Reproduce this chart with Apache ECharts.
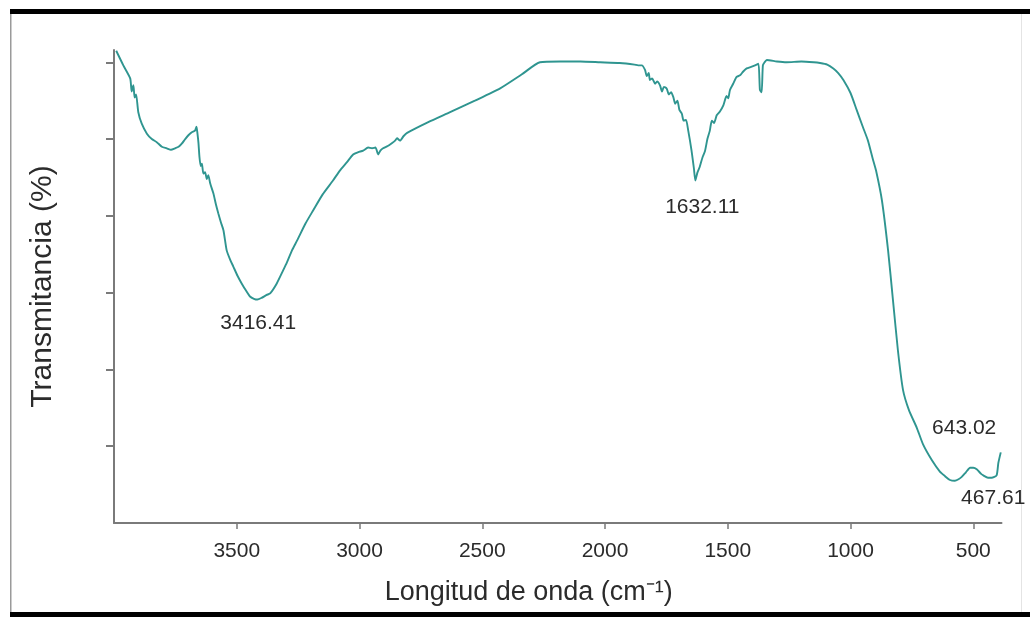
<!DOCTYPE html>
<html>
<head>
<meta charset="utf-8">
<title>Espectro FTIR</title>
<script src="https://cdn.jsdelivr.net/npm/echarts@6/dist/echarts.min.js"></script>
<style>
  html, body { margin: 0; padding: 0; background: #ffffff; }
  #chart { width: 1030px; height: 617px; }
</style>
</head>
<body>
<div id="chart"></div>
<script>
// Wavenumber (cm-1), high to low
const wavenumbers = [
  3991, 3962, 3934, 3928, 3921, 3916, 3910, 3901, 3887, 3866, 3846, 3826, 3805, 3785, 3768, 3751,
  3737, 3724, 3710, 3697, 3683, 3670, 3664, 3660, 3656, 3652, 3647, 3642, 3636, 3629, 3622, 3616,
  3608, 3595, 3585, 3575, 3565, 3554, 3541, 3527, 3514, 3497, 3480, 3463, 3446, 3430, 3416, 3400,
  3378, 3364, 3337, 3311, 3296, 3275, 3254, 3220, 3189, 3150, 3108, 3080, 3051, 3026, 3005, 2985,
  2965, 2949, 2935, 2924, 2915, 2904, 2885, 2867, 2855, 2847, 2835, 2820, 2806, 2720, 2631, 2530,
  2427, 2340, 2265, 2183, 2100, 2020, 1940, 1880, 1865, 1850, 1837, 1830, 1822, 1817, 1808, 1796,
  1788, 1776, 1768, 1760, 1749, 1740, 1731, 1722, 1714, 1705, 1697, 1687, 1680, 1670, 1661, 1648,
  1638, 1632, 1624, 1614, 1603, 1593, 1583, 1573, 1565, 1556, 1545, 1532, 1518, 1505, 1498, 1491,
  1478, 1464, 1450, 1437, 1423, 1405, 1389, 1375, 1369, 1362, 1357, 1350, 1341, 1300, 1260, 1200,
  1150, 1124, 1095, 1070, 1050, 1029, 1000, 975, 950, 929, 910, 896, 872, 847, 827, 807,
  786, 762, 730, 704, 669, 636, 615, 595, 575, 560, 547, 530, 513, 500, 486, 468,
  459, 440, 425, 405, 398, 388
];

// Transmittance (%), one value per wavenumber
const transmittance = [
  61.5, 59.6, 57.9, 56.2, 57.0, 55.4, 55.8, 53.5, 52.0, 50.7, 50.0, 49.6, 49.0, 48.8, 48.6, 48.8,
  49.0, 49.4, 50.0, 50.5, 50.9, 51.1, 51.6, 50.7, 49.5, 47.7, 46.5, 46.8, 45.5, 45.7, 44.8, 45.3,
  44.2, 42.9, 41.5, 40.3, 39.2, 38.1, 35.5, 34.3, 33.4, 32.2, 31.2, 30.3, 29.5, 29.2, 29.1, 29.3,
  29.7, 29.9, 31.2, 32.9, 33.9, 35.5, 36.8, 39.0, 40.7, 42.8, 44.6, 45.9, 47.0, 48.0, 48.3, 48.5,
  48.9, 48.8, 48.9, 48.0, 48.5, 48.8, 49.1, 49.5, 49.8, 50.1, 49.8, 50.4, 50.8, 52.2, 53.5, 55.0,
  56.6, 58.4, 60.0, 60.1, 60.1, 60.0, 59.9, 59.7, 59.6, 59.6, 59.0, 58.2, 58.6, 57.7, 57.9, 57.2,
  57.5, 57.0, 56.2, 56.8, 56.6, 55.8, 56.1, 55.5, 54.6, 55.0, 53.8, 53.3, 52.4, 52.5, 51.1, 48.6,
  46.2, 44.6, 45.6, 46.4, 47.6, 48.4, 50.0, 51.1, 52.4, 52.1, 53.1, 53.6, 54.4, 55.6, 55.3, 56.4,
  57.2, 58.1, 58.3, 58.8, 59.2, 59.4, 59.6, 59.8, 56.4, 56.1, 59.6, 60.0, 60.3, 60.1, 60.0, 60.1,
  60.0, 59.9, 59.7, 59.2, 58.6, 57.7, 56.0, 53.8, 51.6, 49.8, 47.5, 45.9, 42.0, 35.5, 29.0, 22.5,
  17.3, 14.7, 12.4, 10.2, 8.2, 6.7, 6.1, 5.6, 5.5, 5.7, 6.0, 6.6, 7.2, 7.2, 7.0, 6.4,
  6.2, 5.9, 5.9, 6.2, 7.8, 9.2
];

// Annotated band positions (cm-1)
const peakWavenumbers = [3416.41, 1632.11, 643.02, 467.61];

// Axis ticks
const xTickValues = [3500, 3000, 2500, 2000, 1500, 1000, 500];
const yTickValues = [10, 20, 30, 40, 50, 60];

// Label placement relative to each band point (px)
const peakLabelOffsets = [[1, 24], [7, 27], [26, -41], [12, 24]];

// Transmittance on the curve at a given wavenumber
function curveAt(wn) {
  for (let i = 0; i < wavenumbers.length - 1; i++) {
    const a = wavenumbers[i], b = wavenumbers[i + 1];
    if (wn <= a && wn >= b) {
      const t = (a - wn) / (a - b);
      return transmittance[i] + t * (transmittance[i + 1] - transmittance[i]);
    }
  }
  return transmittance[transmittance.length - 1];
}

const spectrum = wavenumbers.map((w, i) => [w, transmittance[i]]);
const peaks = peakWavenumbers.map((w, i) => ({
  value: [w, curveAt(w)],
  label: { offset: peakLabelOffsets[i] }
}));

const textColor = '#2b2b2b';
const axisColor = '#7a7a7a';
const fontFamily = '"Liberation Sans", Arial, sans-serif';

const chart = echarts.init(document.getElementById('chart'), null, { renderer: 'canvas' });

chart.setOption({
  backgroundColor: '#ffffff',
  animation: false,
  grid: {
    left: 114,
    right: 28.5,
    top: 50,
    bottom: 94,
    outerBoundsMode: 'none'
  },
  xAxis: {
    type: 'value',
    inverse: true,
    min: 385,
    max: 4000,
    splitLine: { show: false },
    axisLine: { show: true, onZero: false, lineStyle: { color: axisColor, width: 2 } },
    axisTick: {
      show: true,
      length: 6,
      customValues: xTickValues,
      lineStyle: { color: axisColor, width: 1.5 }
    },
    axisLabel: {
      customValues: xTickValues,
      formatter: v => String(v),
      color: textColor,
      fontSize: 21,
      fontFamily: fontFamily,
      margin: 18
    },
    name: 'Longitud de onda (cm\u207B\u00B9)',
    nameLocation: 'middle',
    nameGap: 56,
    nameTextStyle: {
      color: textColor,
      fontSize: 27,
      fontFamily: fontFamily,
      padding: [0, 58, 0, 0]
    }
  },
  yAxis: {
    type: 'value',
    min: 0,
    max: 61.6,
    splitLine: { show: false },
    axisLine: { show: true, lineStyle: { color: axisColor, width: 2 } },
    axisTick: {
      show: true,
      length: 8,
      customValues: yTickValues,
      lineStyle: { color: axisColor, width: 2 }
    },
    axisLabel: { show: false },
    name: 'Transmitancia (%)',
    nameLocation: 'middle',
    nameRotate: 90,
    nameGap: 56,
    nameTextStyle: {
      color: textColor,
      fontSize: 30,
      fontFamily: fontFamily
    }
  },
  series: [
    {
      name: 'Espectro',
      type: 'line',
      data: spectrum,
      showSymbol: false,
      smooth: 0.2,
      lineStyle: { color: '#2f9590', width: 1.9 },
      z: 3
    },
    {
      name: 'Bandas',
      type: 'scatter',
      data: peaks,
      symbolSize: 1,
      itemStyle: { color: 'transparent' },
      label: {
        show: true,
        position: 'inside',
        color: textColor,
        opacity: 1,
        fontSize: 21,
        fontFamily: fontFamily,
        formatter: p => p.value[0].toFixed(2)
      },
      z: 4
    }
  ],
  graphic: [
    { type: 'rect', shape: { x: 10, y: 9, width: 1020, height: 5 }, style: { fill: '#000000' } },
    { type: 'rect', shape: { x: 10, y: 612, width: 1020, height: 5 }, style: { fill: '#000000' } },
    { type: 'rect', shape: { x: 10, y: 14, width: 1.5, height: 598 }, style: { fill: '#9a9a9a' } },
    { type: 'rect', shape: { x: 1021, y: 14, width: 1, height: 598 }, style: { fill: '#e4e4e4' } }
  ]
});
</script>
</body>
</html>
